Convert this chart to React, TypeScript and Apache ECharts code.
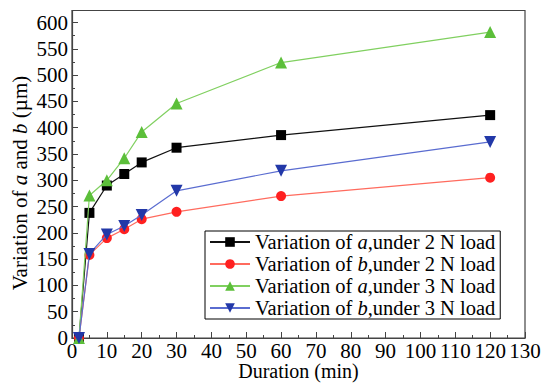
import React, { useEffect, useRef } from "react";
import * as echarts from "echarts";

// Sampling times (min)
const durations = [2, 5, 10, 15, 20, 30, 60, 120];

// Measured variations (µm)
const a2N = [0, 238, 290, 312, 334, 362, 386, 424];
const b2N = [0, 158, 190, 207, 226, 240, 270, 305];
const a3N = [0, 271, 300, 342, 392, 446, 524, 582];
const b3N = [0, 160, 197, 213, 234, 280, 318, 373];

const seriesKeys = ["a2", "b2", "a3", "b3"];
const legendLabels = [
  "{n|Variation of }{i|a}{n|,under 2 N load}",
  "{n|Variation of }{i|b}{n|,under 2 N load}",
  "{n|Variation of }{i|a}{n|,under 3 N load}",
  "{n|Variation of }{i|b}{n|,under 3 N load}",
];
const yTitle = "{n|Variation of }{i|a}{n| and }{i|b}{n| (µm)}";

const FONT = "Liberation Serif";

const pairs = (vals: number[]) => durations.map((t, i) => [t, vals[i]]);

export default function App() {
  const ref = useRef<HTMLDivElement>(null);

  useEffect(() => {
    if (!ref.current) return;
    const chart = echarts.init(ref.current, null, { renderer: "svg" });

    const styles = [
      { line: "#111111", mark: "#000000", symbol: "rect", size: 10, rotate: 0 },
      { line: "#ff6b5e", mark: "#ff2020", symbol: "circle", size: 10, rotate: 0 },
      { line: "#80d060", mark: "#5cbf3a", symbol: "triangle", size: 12, rotate: 0 },
      { line: "#5a6cd0", mark: "#2238a8", symbol: "triangle", size: 12, rotate: 180 },
    ];
    const values = [a2N, b2N, a3N, b3N];

    const rich = (size: number, lh?: number) => ({
      n: { fontFamily: FONT, fontSize: size, color: "#000", lineHeight: lh },
      i: { fontFamily: FONT, fontSize: size, color: "#000", fontStyle: "italic", lineHeight: lh },
    });

    chart.setOption({
      animation: false,
      backgroundColor: "#ffffff",
      textStyle: { fontFamily: FONT, fontWeight: "normal" },
      grid: {
        left: 72,
        right: 23,
        top: 10.5,
        bottom: 46,
        outerBoundsMode: "none",
        containLabel: false,
        show: true,
        borderColor: "#444",
        borderWidth: 1.2,
        backgroundColor: "transparent",
      },
      graphic: [
        {
          type: "text",
          x: 20,
          y: 183,
          rotation: Math.PI / 2,
          style: {
            text: yTitle,
            rich: rich(21),
            fontFamily: FONT,
            fontSize: 21,
            fill: "#000",
            align: "center",
            verticalAlign: "middle",
          },
        },
      ],
      legend: {
        left: 205,
        top: 231,
        orient: "vertical",
        itemGap: 0,
        itemWidth: 40,
        itemHeight: 12,
        padding: [0, 5, 0, 4],
        borderColor: "#000",
        borderWidth: 1,
        backgroundColor: "#fff",
        data: seriesKeys,
        formatter: (name: string) => legendLabels[seriesKeys.indexOf(name)],
        textStyle: {
          fontFamily: FONT,
          fontSize: 20.5,
          color: "#000",
          lineHeight: 22,
          rich: rich(20.5, 22),
        },
      },
      xAxis: {
        type: "value",
        min: 0,
        max: 130,
        interval: 10,
        name: "Duration (min)",
        nameLocation: "middle",
        nameGap: 22,
        nameMoveOverlap: false,
        nameTextStyle: { fontFamily: FONT, fontSize: 20, color: "#000", lineHeight: 22 },
        axisLine: { show: true, onZero: false, lineStyle: { color: "#444", width: 1.2 } },
        axisTick: { show: true, inside: true, length: 6, lineStyle: { color: "#444" } },
        minorTick: { show: true, splitNumber: 2, length: 3, lineStyle: { color: "#444" } },
        splitLine: { show: false },
        axisLabel: {
          fontFamily: FONT,
          fontSize: 21,
          color: "#000",
          margin: 2,
        },
      },
      yAxis: {
        type: "value",
        min: 0,
        max: 623,
        interval: 50,
        axisLine: { show: true, lineStyle: { color: "#444", width: 1.2 } },
        axisTick: { show: true, inside: true, length: 6, lineStyle: { color: "#444" } },
        minorTick: { show: true, splitNumber: 2, length: 3, lineStyle: { color: "#444" } },
        splitLine: { show: false },
        axisLabel: {
          fontFamily: FONT,
          fontSize: 21,
          color: "#000",
          margin: 4,
          formatter: (v: number) => (v % 50 === 0 ? String(v) : ""),
        },
      },
      series: values.map((vals, i) => ({
        name: seriesKeys[i],
        type: "line",
        data: pairs(vals),
        symbol: styles[i].symbol,
        symbolSize: styles[i].size,
        symbolRotate: styles[i].rotate,
        lineStyle: { color: styles[i].line, width: 1.2 },
        itemStyle: { color: styles[i].mark },
        clip: false,
        z: 2 + i,
      })),
    });

    return () => chart.dispose();
  }, []);

  return (
    <div
      ref={ref}
      style={{ position: "fixed", left: 0, top: 0, width: 548, height: 384 }}
    />
  );
}
